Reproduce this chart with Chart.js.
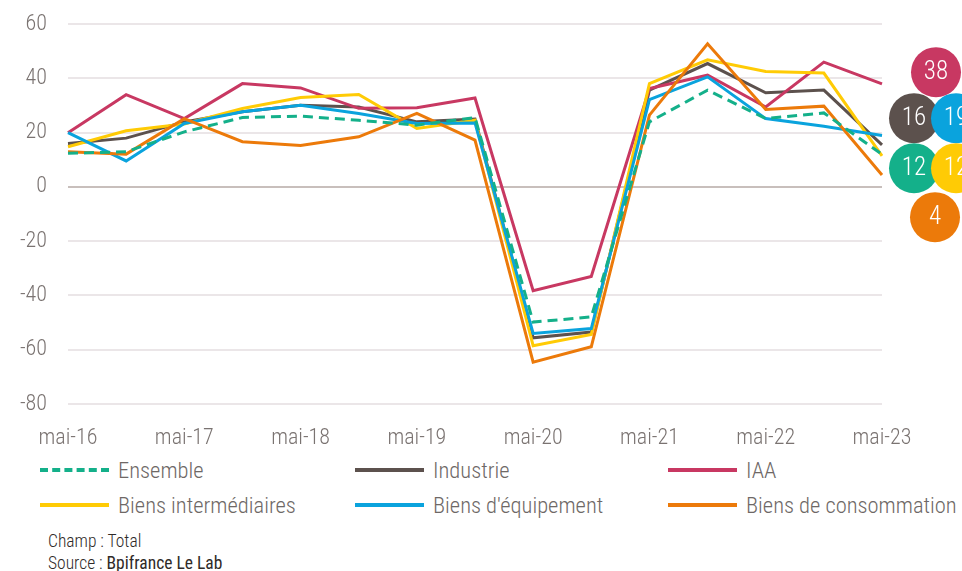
<!DOCTYPE html>
<html>
<head>
<meta charset="utf-8">
<script src="https://cdn.jsdelivr.net/npm/chart.js@4/dist/chart.umd.min.js"></script>
<style>
  html, body { margin: 0; padding: 0; background: #fff; }
  #wrap { position: relative; width: 962px; height: 571px; overflow: hidden;
          font-family: 'Roboto Condensed', 'Liberation Sans Narrow', sans-serif; }
  #chartBox { position: absolute; left: 0; top: -10px; width: 962px; height: 462px; }
  #legend { position: absolute; left: 0; top: 452px; width: 962px; height: 80px; }
  .item { position: absolute; display: flex; align-items: center; font-size: 22.5px; font-weight: 300; color: #6e6866; white-space: nowrap; }
  .swatch { width: 69px; height: 0; margin-right: 9px; }
  .note { position: absolute; left: 48px; font-size: 17.5px; font-weight: 300; color: #2f2a28; white-space: nowrap; }
</style>
</head>
<body>
<div id="wrap">
  <div id="chartBox"><canvas id="c"></canvas></div>
  <div id="legend"></div>
  <div class="note" style="top:531px;">Champ : Total</div>
  <div class="note" style="top:553px;">Source : <span style="font-weight:400;">Bpifrance Le Lab</span></div>
</div>
<script>
const categories = ['mai-16','nov-16','mai-17','nov-17','mai-18','nov-18','mai-19','nov-19',
                    'mai-20','nov-20','mai-21','nov-21','mai-22','nov-22','mai-23'];
const ensemble      = [12.4, 13, 20.3, 25.6, 26.1, 24.6, 22.8, 25.6, -49.8, -47.9, 24, 35.7, 25.2, 27.3, 12];
const industrie     = [16, 18, 24, 27.7, 30.1, 29.5, 24, 25, -55.6, -53.5, 35.7, 45.5, 34.7, 35.7, 15.5];
const iaa           = [20, 34, 25.2, 38.1, 36.5, 29, 29.2, 32.8, -38.2, -33, 36.3, 41.2, 29.5, 46, 38];
const intermediaires= [14.8, 20.7, 23.2, 28.9, 33, 34.1, 21.6, 24.6, -58.5, -54.4, 38.1, 46.9, 42.6, 42, 11.5];
const equipement    = [20, 9.6, 23.4, 27.7, 30.1, 27.1, 23.4, 23.6, -54, -52.2, 32.2, 40.6, 25.2, 22.4, 19];
const consommation  = [13, 12.1, 25.2, 16.7, 15.3, 18.5, 27.1, 17.3, -64.6, -58.9, 26.5, 52.8, 28.6, 29.8, 4.4];
const yTicks = { min: -80, max: 60, step: 20 };

const FONT = "'Roboto Condensed', 'Liberation Sans Narrow', sans-serif";
const C = { green: '#14b08a', dark: '#5c514d', crimson: '#c83862', yellow: '#ffcb05', blue: '#0aa3dd', orange: '#ec7a0a' };

function ds(label, data, color, extra) {
  return Object.assign({ label, data, borderColor: color, backgroundColor: color, borderWidth: 3,
    pointRadius: 0, tension: 0, fill: false }, extra || {});
}
const datasets = [
  ds('Ensemble', ensemble, C.green, { borderDash: [10, 6], order: 0 }),
  ds('Industrie', industrie, C.dark, { order: 5 }),
  ds('IAA', iaa, C.crimson, { order: 4 }),
  ds('Biens intermédiaires', intermediaires, C.yellow, { order: 3 }),
  ds("Biens d'équipement", equipement, C.blue, { order: 2 }),
  ds('Biens de consommation', consommation, C.orange, { order: 1 })
];

// end-value bubbles (IAA, Industrie, Equipement, Ensemble, Intermediaires, Consommation)
const bubbles = [
  { idx: 2, dx: 54, dy: 48 },
  { idx: 1, dx: 32, dy: 94 },
  { idx: 4, dx: 74, dy: 94 },
  { idx: 0, dx: 32, dy: 144 },
  { idx: 3, dx: 74, dy: 144 },
  { idx: 5, dx: 53, dy: 193 }
];
const bubblePlugin = {
  id: 'bubbles',
  afterDraw(chart) {
    const ctx = chart.ctx, a = chart.chartArea;
    ctx.save();
    bubbles.forEach(b => {
      const d = chart.data.datasets[b.idx];
      const v = Math.round(d.data[d.data.length - 1]);
      const x = a.right + b.dx, y = a.top + b.dy;
      ctx.beginPath();
      ctx.ellipse(x, y, 25, 25, 0, 0, Math.PI * 2);
      ctx.fillStyle = d.borderColor;
      ctx.fill();
      ctx.fillStyle = '#fff';
      ctx.font = '300 25px ' + FONT;
      ctx.textAlign = 'center';
      ctx.textBaseline = 'middle';
      ctx.fillText(String(v), x, y + 1);
    });
    ctx.restore();
  }
};

const chart = new Chart(document.getElementById('c'), {
  type: 'line',
  data: { labels: categories, datasets },
  options: {
    responsive: true, maintainAspectRatio: false, animation: false, devicePixelRatio: 1,
    layout: { padding: { top: 15, right: 80, left: 0, bottom: 0 } },
    plugins: { legend: { display: false }, tooltip: { enabled: false } },
    scales: {
      x: {
        offset: false,
        grid: { display: false },
        border: { display: false },
        ticks: { autoSkip: false, maxRotation: 0, minRotation: 0, padding: 13,
          color: '#7a7371', font: { family: FONT, size: 22, weight: 300 },
          callback: (v, i) => (i % 2 === 0 ? categories[i] : '') },
        afterFit: s => { s.height = 48; }
      },
      y: {
        min: yTicks.min, max: yTicks.max,
        grid: { drawTicks: false, lineWidth: 2,
          color: c => (c.tick && c.tick.value === 0 ? '#c8bfbc' : '#ebe6e8') },
        border: { display: false },
        ticks: { stepSize: yTicks.step, padding: 21, color: '#7a7371', font: { family: FONT, size: 22, weight: 300 } },
        afterFit: s => { s.width = 68; }
      }
    }
  },
  plugins: [bubblePlugin]
});

// HTML legend built from datasets
const legend = document.getElementById('legend');
const colX = [40, 355, 668];
const rowY = [18, 53];
chart.data.datasets.forEach((d, i) => {
  const el = document.createElement('div');
  el.className = 'item';
  el.style.left = colX[i % 3] + 'px';
  el.style.top = (rowY[Math.floor(i / 3)] - 13) + 'px';
  const sw = document.createElement('span');
  sw.className = 'swatch';
  sw.style.borderTop = d.borderDash ? '4px dashed ' + d.borderColor : '4px solid ' + d.borderColor;
  el.appendChild(sw);
  el.appendChild(document.createTextNode(d.label));
  legend.appendChild(el);
});
</script>
</body>
</html>
